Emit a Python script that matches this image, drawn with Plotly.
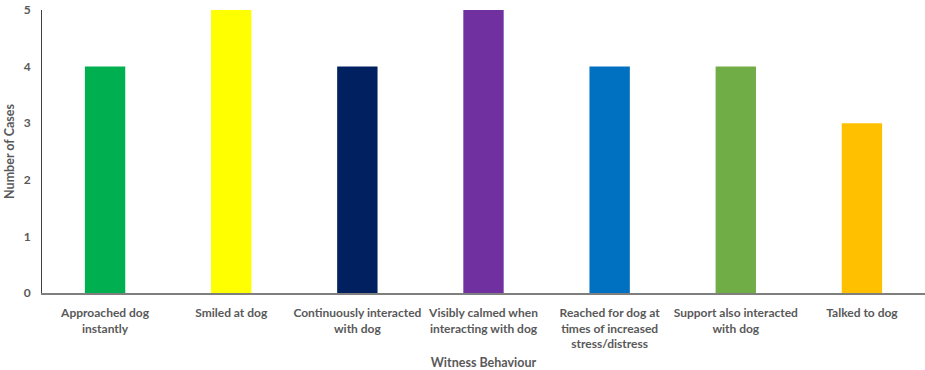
import plotly.graph_objects as go

categories = ["Approached dog<br>instantly", "Smiled at dog", "Continuously interacted<br>with dog",
              "Visibly calmed when<br>interacting with dog", "Reached for dog at<br>times of increased<br>stress/distress",
              "Support also interacted<br>with dog", "Talked to dog"]
values = [4, 5, 4, 5, 4, 4, 3]
colors = ["#00B050", "#FFFF00", "#002060", "#7030A0", "#0070C0", "#70AD47", "#FFC000"]
y_ticks = [0, 1, 2, 3, 4, 5]

fig = go.Figure(go.Bar(x=categories, y=values, marker=dict(color=colors, line=dict(width=0))))
font = dict(family="Lato", size=12, color="#595959")
fig.update_layout(
    width=925, height=370,
    margin=dict(l=42, r=0, t=10, b=77),
    plot_bgcolor="white", paper_bgcolor="white",
    bargap=0.68, showlegend=False,
    font=font,
)
fig.update_xaxes(showgrid=False, showline=True, linecolor="#7f7f7f", linewidth=1.5,
                 tickfont=dict(family="Lato", size=12, color="#595959", weight="bold"),
                 ticks="", ticklabelstandoff=8,
                 title=dict(text="<b>Witness Behaviour</b>", font=dict(size=12.5, color="#595959"), standoff=10))
fig.update_yaxes(range=[0, 5], tickvals=y_ticks, showgrid=False, showline=True, linecolor="#404040", linewidth=1,
                 tickfont=dict(family="Lato", size=12, color="#595959", weight="bold"), ticks="", zeroline=False,
                 ticklabelstandoff=8,
                 title=dict(text="<b>Number of Cases</b>", font=dict(size=12.5, color="#595959"), standoff=6))
fig.write_html("out.html")
